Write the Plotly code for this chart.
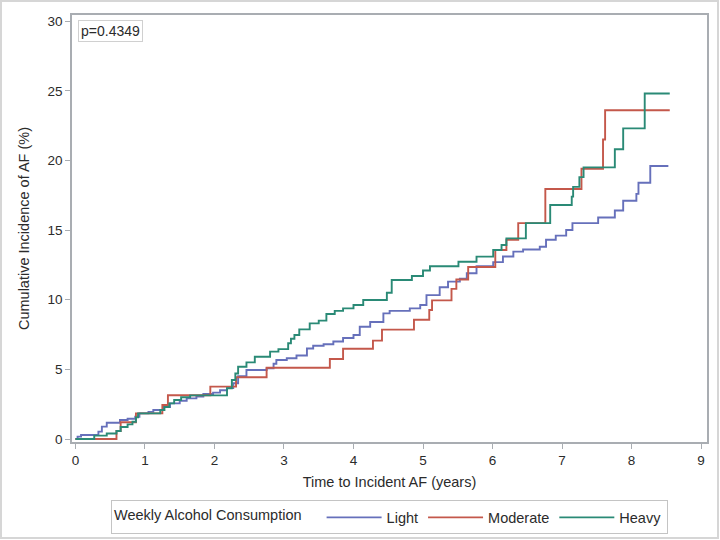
import plotly.graph_objects as go

# Cumulative incidence step data (time in years, incidence %)
light_t = [0, 0.03, 0.08, 0.33, 0.38, 0.45, 0.64, 0.75, 0.86, 0.92, 1.05, 1.12, 1.26, 1.36, 1.50, 1.60,
           1.74, 1.84, 1.98, 2.08, 2.18, 2.27, 2.34, 2.46, 2.75, 2.85, 2.89, 3.04, 3.18, 3.33, 3.42,
           3.57, 3.71, 3.85, 4.00, 4.09, 4.24, 4.43, 4.52, 4.81, 4.96, 5.05, 5.24, 5.36, 5.53, 5.63,
           5.77, 6.01, 6.15, 6.30, 6.44, 6.68, 6.77, 6.91, 7.06, 7.15, 7.52, 7.76, 7.88, 8.07, 8.10,
           8.27, 8.53]
light_v = [0, 0.17, 0.29, 0.53, 0.89, 1.17, 1.36, 1.45, 1.60, 1.84, 1.95, 2.08, 2.30, 2.56, 2.75, 2.92,
           3.04, 3.23, 3.33, 3.50, 3.65, 4.00, 4.50, 4.95, 5.07, 5.40, 5.67, 5.80, 6.00, 6.50, 6.70,
           6.80, 7.00, 7.25, 7.47, 8.06, 8.40, 9.02, 9.20, 9.38, 9.62, 10.33, 10.90, 11.30, 11.50, 11.90,
           12.40, 12.70, 13.10, 13.45, 13.60, 13.80, 14.30, 14.60, 15.00, 15.50, 15.90, 16.40, 17.10, 17.60, 18.40,
           19.60, 19.60]

moderate_t = [0, 0.59, 0.65, 0.87, 1.25, 1.33, 1.94, 2.31, 2.75, 3.66, 3.85, 4.28, 4.41, 4.87, 5.09,
              5.13, 5.41, 5.48, 5.65, 6.04, 6.20, 6.37, 6.76, 7.28, 7.59, 7.62, 8.55]
moderate_v = [0, 0.57, 1.20, 1.84, 2.44, 3.14, 3.76, 4.43, 5.12, 5.74, 6.48, 7.06, 7.85, 8.56, 9.26,
              9.95, 10.78, 11.45, 12.35, 13.57, 14.30, 15.50, 17.95, 19.40, 21.50, 23.60, 23.60]

heavy_t = [0, 0.27, 0.45, 0.59, 0.65, 0.75, 0.82, 0.87, 0.90, 1.22, 1.28, 1.35, 1.42, 1.52, 1.65,
           2.18, 2.25, 2.30, 2.34, 2.46, 2.58, 2.80, 2.92, 3.06, 3.10, 3.15, 3.22, 3.37, 3.50, 3.61,
           3.73, 3.85, 4.00, 4.14, 4.48, 4.55, 4.84, 5.00, 5.10, 5.51, 5.77, 6.01, 6.13, 6.20, 6.48,
           6.83, 7.14, 7.16, 7.25, 7.31, 7.76, 7.88, 8.19, 8.55]
heavy_v = [0, 0.24, 0.40, 0.57, 0.86, 1.05, 1.24, 1.55, 1.84, 2.08, 2.30, 2.56, 2.80, 3.00, 3.13,
           3.64, 4.24, 4.70, 5.19, 5.50, 5.90, 6.27, 6.45, 6.87, 7.20, 7.47, 7.87, 8.30, 8.50, 8.97,
           9.20, 9.38, 9.62, 9.98, 10.50, 11.41, 11.70, 12.10, 12.40, 12.73, 13.09, 13.57, 13.93, 14.40, 15.50,
           16.80, 17.40, 18.10, 18.80, 19.50, 20.80, 22.30, 24.80, 24.80]

series_names = ["Light", "Moderate", "Heavy"]
series_colors = ["#6670bb", "#c4584b", "#2a8a76"]
x_ticks = [0, 1, 2, 3, 4, 5, 6, 7, 8, 9]
y_ticks = [0, 5, 10, 15, 20, 25, 30]
p_label = "p=0.4349"

FONT = "Liberation Sans, Arial, sans-serif"
TXT = "#2b2b2b"
AX = "#a9adb2"

fig = go.Figure()
for name, color, t, v in zip(series_names, series_colors,
                             [light_t, moderate_t, heavy_t],
                             [light_v, moderate_v, heavy_v]):
    fig.add_trace(go.Scatter(x=t, y=v, mode="lines", name=name,
                             line=dict(color=color, width=1.9, shape="hv")))

fig.update_layout(
    width=720, height=540,
    margin=dict(l=72, r=13, t=15, b=98, autoexpand=False),
    paper_bgcolor="white", plot_bgcolor="white",
    font=dict(family=FONT, size=13, color=TXT),
    xaxis=dict(range=[-0.05, 9.086], tickvals=x_ticks, ticks="outside", ticklen=5,
               tickcolor=AX, showline=True, linecolor=AX, linewidth=1.5, mirror=True,
               showgrid=False, zeroline=False, automargin=False,
               title=dict(text="Time to Incident AF (years)", font=dict(size=14.5), standoff=10),
               tickfont=dict(size=13.5)),
    yaxis=dict(range=[-0.215, 30.44], tickvals=y_ticks, ticks="outside", ticklen=5,
               tickcolor=AX, showline=True, linecolor=AX, linewidth=1.5, mirror=True,
               showgrid=False, zeroline=False, automargin=False,
               title=dict(text="Cumulative Incidence of AF (%)", font=dict(size=14.5), standoff=14),
               tickfont=dict(size=13.5)),
    legend=dict(orientation="h", x=0.0614, y=-0.1768, xanchor="left", yanchor="middle",
                title=dict(text="Weekly Alcohol Consumption   ", side="left", font=dict(size=14.5)),
                font=dict(size=14.5), bordercolor="#c4c4c4", borderwidth=1, valign="middle",
                itemwidth=55, tracegroupgap=0),
    showlegend=True,
)

fig.add_annotation(x=0, y=1, xref="paper", yref="paper", xanchor="left", yanchor="top",
                   xshift=6, yshift=-5, text=p_label, showarrow=False,
                   font=dict(size=14, color=TXT), bordercolor="#d0d0d0", borderwidth=1,
                   borderpad=2, bgcolor="white")

# light grey frame around the whole picture
fig.add_shape(type="rect", xref="paper", yref="paper",
              x0=-0.1118, x1=1.0173, y0=-0.2248, y1=1.0328,
              line=dict(color="#d6d6d6", width=2), layer="below")

fig.write_html("out.html", config={"displayModeBar": False},
               post_script="document.body.style.margin='0';")
